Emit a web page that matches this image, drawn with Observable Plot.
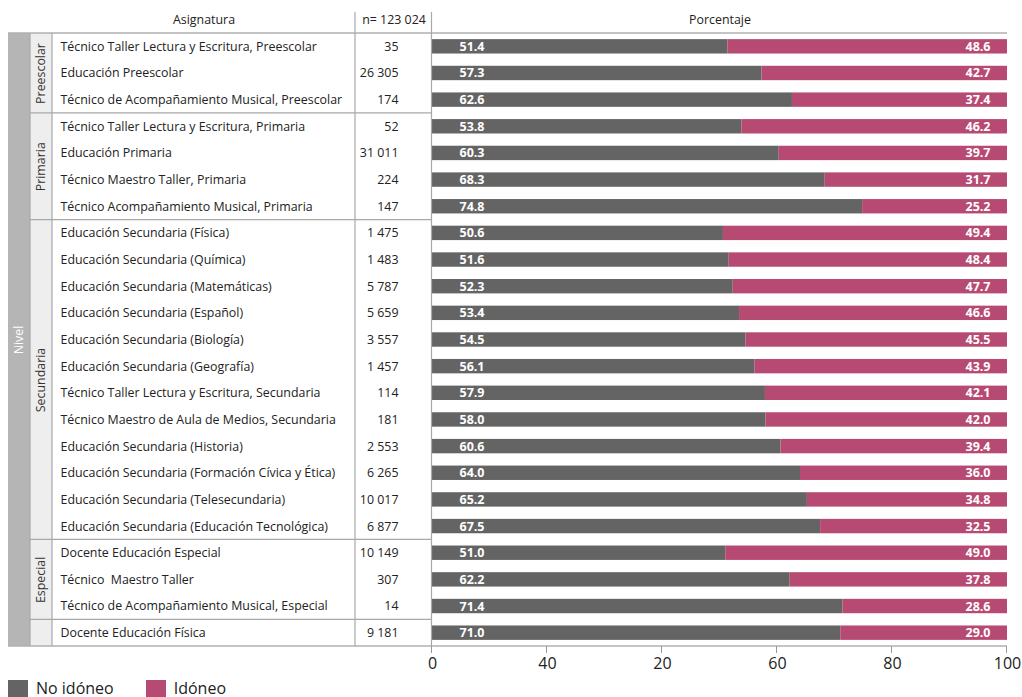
<!DOCTYPE html>
<html>
<head>
<meta charset="utf-8">
<script src="https://cdn.jsdelivr.net/npm/d3@7"></script>
<script src="https://cdn.jsdelivr.net/npm/@observablehq/plot@0.6"></script>
<style>
  body { margin: 0; background: white; font-family: "Open Sans", sans-serif; }
  #legend { display: flex; align-items: center; margin: 1px 0 0 8px; font-size: 16px; line-height: 18px; color: #222; }
  #legend .item { display: flex; align-items: center; margin-right: 32px; }
  #legend .sw { width: 20px; height: 17px; margin-right: 8px; }
</style>
</head>
<body>
<div id="chart"></div>
<div id="legend"></div>
<script>
const asignaturas = [
  "Técnico Taller Lectura y Escritura, Preescolar",
  "Educación Preescolar",
  "Técnico de Acompañamiento Musical, Preescolar",
  "Técnico Taller Lectura y Escritura, Primaria",
  "Educación Primaria",
  "Técnico Maestro Taller, Primaria",
  "Técnico Acompañamiento Musical, Primaria",
  "Educación Secundaria (Física)",
  "Educación Secundaria (Química)",
  "Educación Secundaria (Matemáticas)",
  "Educación Secundaria (Español)",
  "Educación Secundaria (Biología)",
  "Educación Secundaria (Geografía)",
  "Técnico Taller Lectura y Escritura, Secundaria",
  "Técnico Maestro de Aula de Medios, Secundaria",
  "Educación Secundaria (Historia)",
  "Educación Secundaria (Formación Cívica y Ética)",
  "Educación Secundaria (Telesecundaria)",
  "Educación Secundaria (Educación Tecnológica)",
  "Docente Educación Especial",
  "Técnico  Maestro Taller",
  "Técnico de Acompañamiento Musical, Especial",
  "Docente Educación Física"
];
const nValues = [35, 26305, 174, 52, 31011, 224, 147, 1475, 1483, 5787, 5659, 3557, 1457, 114, 181, 2553, 6265, 10017, 6877, 10149, 307, 14, 9181];
const noIdoneo = [51.4, 57.3, 62.6, 53.8, 60.3, 68.3, 74.8, 50.6, 51.6, 52.3, 53.4, 54.5, 56.1, 57.9, 58.0, 60.6, 64.0, 65.2, 67.5, 51.0, 62.2, 71.4, 71.0];
const idoneo = [48.6, 42.7, 37.4, 46.2, 39.7, 31.7, 25.2, 49.4, 48.4, 47.7, 46.6, 45.5, 43.9, 42.1, 42.0, 39.4, 36.0, 34.8, 32.5, 49.0, 37.8, 28.6, 29.0];
const niveles = ["Preescolar", "Primaria", "Secundaria", "Especial", ""];
const nivelCounts = [3, 4, 12, 3, 1];
const nivelTitle = "Nivel";
const headers = {asignatura: "Asignatura", n: "n= 123 024", pct: "Porcentaje"};
const xTicks = [0, 20, 40, 60, 80, 100];
const xTickLabels = ["0", "40", "20", "60", "80", "100"];
const seriesNames = ["No idóneo", "Idóneo"];

const GRAY = "#646464", PINK = "#b74a72", LINE = "#a8a8a8";

const fmt = d3.formatLocale({decimal: ".", thousands: " ", grouping: [3], currency: ["", ""]}).format(",d");

const rows = asignaturas.map((a, i) => ({i, a, n: nValues[i], no: noIdoneo[i], id: idoneo[i]}));
let start = 0;
const groups = niveles.map((name, k) => {
  const g = {name, start, end: start + nivelCounts[k] - 1};
  start += nivelCounts[k];
  return g;
});
const nRows = rows.length;
const tickData = xTicks.map((v, k) => ({v, label: xTickLabels[k]}));

// layout (pixels)
const W = 1022, H = 678, ML = 432, MR = 15, MT = 33, MB = 32;
const colNivel = [8, 30], colSub = [30, 52], colN = 355, colNRight = 398, colTextLeft = 60;
const FS = 12.4;

const plot = Plot.plot({
  width: W, height: H,
  marginLeft: ML, marginRight: MR, marginTop: MT, marginBottom: MB,
  style: {fontFamily: "Open Sans, sans-serif", fontSize: FS + "px", color: "#222", background: "white", whiteSpace: "pre", overflow: "visible"},
  x: {domain: [0, 100], axis: null},
  y: {domain: [nRows - 0.5, -0.5], axis: null},
  marks: [
    Plot.rectX(rows, {x1: 0, x2: "no", y1: d => d.i - 0.27, y2: d => d.i + 0.27, fill: GRAY}),
    Plot.rectX(rows, {x1: "no", x2: d => d.no + d.id, y1: d => d.i - 0.27, y2: d => d.i + 0.27, fill: PINK}),
    Plot.text(rows, {x: 0, y: "i", text: d => d.no.toFixed(1), dx: 27, textAnchor: "start", fill: "white", fontWeight: "bold", fontSize: 12.5}),
    Plot.text(rows, {x: 100, y: "i", text: d => d.id.toFixed(1), dx: -17, textAnchor: "end", fill: "white", fontWeight: "bold", fontSize: 12.5}),
    Plot.text(rows, {y: "i", text: "a", frameAnchor: "left", dx: colTextLeft - ML, textAnchor: "start", fill: "#222"}),
    Plot.text(rows, {y: "i", text: d => fmt(d.n), frameAnchor: "left", dx: colNRight - ML, textAnchor: "end", fill: "#222"}),
    Plot.text(groups, {y: d => (d.start + d.end) / 2, text: "name", frameAnchor: "left", dx: (colSub[0] + colSub[1]) / 2 - ML, rotate: -90, textAnchor: "middle", lineAnchor: "middle", fill: "#333"}),
    Plot.text([nivelTitle], {y: (nRows - 1) / 2, text: d => d, frameAnchor: "left", dx: (colNivel[0] + colNivel[1]) / 2 - ML, rotate: -90, textAnchor: "middle", lineAnchor: "middle", fill: "white"}),
    Plot.text([headers.asignatura], {text: d => d, frameAnchor: "top-left", dx: (colSub[1] + colN) / 2 - ML, dy: -13, textAnchor: "middle", lineAnchor: "middle", fill: "#222"}),
    Plot.text([headers.n], {text: d => d, frameAnchor: "top-left", dx: (colN + ML) / 2 - ML, dy: -13, textAnchor: "middle", lineAnchor: "middle", fill: "#222"}),
    Plot.text([headers.pct], {text: d => d, frameAnchor: "top", dy: -13, lineAnchor: "middle", fill: "#222"}),
    Plot.text(tickData, {x: "v", text: "label", frameAnchor: "bottom", dy: 17, lineAnchor: "middle", fontSize: 16, fill: "#222"})
  ]
});

// table structure and ticks, placed through the plot's scales
const ys = plot.scale("y"), xs = plot.scale("x");
const svg = d3.select(plot);
const g = svg.insert("g", ":first-child");
const yTop = ys.apply(-0.5), yBot = ys.apply(nRows - 0.5);
g.append("rect").attr("x", colNivel[0]).attr("y", yTop).attr("width", colNivel[1] - colNivel[0]).attr("height", yBot - yTop).attr("fill", "#b5b5b5");
g.append("rect").attr("x", colSub[0]).attr("y", yTop).attr("width", colSub[1] - colSub[0]).attr("height", yBot - yTop).attr("fill", "#eeeeee");
const lines = svg.append("g").attr("stroke", LINE).attr("fill", "none");
groups.slice(0, -1).forEach(gr => {
  const yy = ys.apply(gr.end + 0.5);
  lines.append("line").attr("x1", colSub[0]).attr("x2", ML - 0.5).attr("y1", yy).attr("y2", yy).attr("stroke-width", 1.2);
});
[yTop, yBot].forEach(yy => {
  lines.append("line").attr("x1", colNivel[0]).attr("x2", W - MR).attr("y1", yy).attr("y2", yy).attr("stroke-width", 1.5).attr("stroke", "#b0b0b0");
});
[[colSub[0], yTop], [colSub[1], yTop], [colN, 12], [ML - 0.5, 12]].forEach(([xx, y0]) => {
  lines.append("line").attr("x1", xx).attr("x2", xx).attr("y1", y0).attr("y2", yBot).attr("stroke-width", 1.2);
});
xTicks.forEach(v => {
  const xx = Math.round(xs.apply(v)) - 0.5;
  lines.append("line").attr("x1", xx).attr("x2", xx).attr("y1", yBot).attr("y2", yBot + 7).attr("stroke", "#999").attr("stroke-width", 1);
});

document.getElementById("chart").append(plot);

const legend = d3.select("#legend");
[GRAY, PINK].forEach((c, k) => {
  const it = legend.append("div").attr("class", "item");
  it.append("div").attr("class", "sw").style("background", c);
  it.append("span").text(seriesNames[k]);
});
</script>
</body>
</html>
